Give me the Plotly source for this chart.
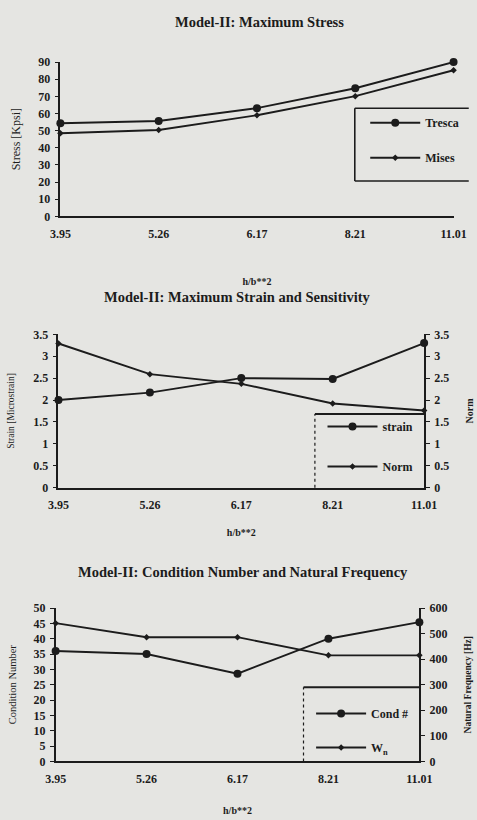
import plotly.graph_objects as go

W, H = 477, 820
x_labels = ["3.95", "5.26", "6.17", "8.21", "11.01"]
x_idx = [0, 1, 2, 3, 4]

tresca = [54.3, 55.6, 63.1, 74.7, 90.0]
mises = [48.5, 50.4, 59.0, 70.1, 85.2]

strain = [2.0, 2.17, 2.5, 2.48, 3.3]
norm = [3.29, 2.59, 2.37, 1.92, 1.76]

cond = [36.0, 35.0, 28.6, 40.0, 45.4]
wn = [541, 486, 486, 415, 415]

BG = "#e5e5e2"
INK = "#1c1c1c"
FONT = "Liberation Serif"


def px(x):
    return x / W


def py(y):
    return 1 - y / H


fig = go.Figure()

line = dict(color=INK, width=1.9)
big = dict(symbol="circle", size=8, color=INK)
small = dict(symbol="diamond", size=5, color=INK)

fig.add_trace(go.Scatter(x=x_idx, y=tresca, name="Tresca", mode="lines+markers", line=line,
                         marker=big, xaxis="x", yaxis="y", legend="legend", legendgroup="a", cliponaxis=False))
fig.add_trace(go.Scatter(x=x_idx, y=mises, name="Mises", mode="lines+markers", line=line,
                         marker=small, xaxis="x", yaxis="y", legend="legend", legendgroup="b", cliponaxis=False))
fig.add_trace(go.Scatter(x=x_idx, y=strain, name="strain", mode="lines+markers", line=line,
                         marker=big, xaxis="x2", yaxis="y2", legend="legend2", legendgroup="c", cliponaxis=False))
fig.add_trace(go.Scatter(x=x_idx, y=norm, name="Norm", mode="lines+markers", line=line,
                         marker=small, xaxis="x2", yaxis="y3", legend="legend2", legendgroup="d", cliponaxis=False))
fig.add_trace(go.Scatter(x=x_idx, y=cond, name="Cond #", mode="lines+markers", line=line,
                         marker=big, xaxis="x3", yaxis="y4", legend="legend3", legendgroup="e", cliponaxis=False))
fig.add_trace(go.Scatter(x=x_idx, y=wn, name="W<sub>n</sub>", mode="lines+markers", line=line,
                         marker=small, xaxis="x3", yaxis="y5", legend="legend3", legendgroup="f", cliponaxis=False))

tickfont = dict(family=FONT, size=12, color=INK, weight="bold")


def xax(domain, anchor, standoff):
    return dict(domain=domain, anchor=anchor, range=[0, 4], tickvals=x_idx, ticktext=x_labels,
                showline=True, linecolor=INK, linewidth=2.2, ticks="", showgrid=False, zeroline=False,
                tickfont=tickfont, ticklabelstandoff=5,
                title=dict(text="h/b**2", font=dict(family=FONT, size=10, color=INK, weight="bold"),
                           standoff=standoff))


def yax(domain, anchor, rng, dtick, title, side="left", overlaying=None, tsize=10, tweight="normal", standoff=4):
    d = dict(domain=domain, anchor=anchor, range=rng, dtick=dtick, side=side,
             showline=True, linecolor=INK, linewidth=1.5, ticks="outside", ticklen=4, tickwidth=1.2,
             tickcolor=INK, showgrid=False, zeroline=False, tickfont=tickfont, ticklabelstandoff=2,
             title=dict(text=title, font=dict(family=FONT, size=tsize, color=INK, weight=tweight),
                        standoff=standoff))
    if overlaying:
        d["overlaying"] = overlaying
    return d


fig.update_layout(
    width=W, height=H, margin=dict(l=0, r=0, t=0, b=0),
    paper_bgcolor=BG, plot_bgcolor=BG, showlegend=True,
    xaxis=xax([px(52), px(466)], "y", 38),
    yaxis=yax([py(213), py(56)], "x", [0, 90], 10, "Stress [Kpsi]", tsize=12, standoff=15),
    xaxis2=xax([px(50), px(435)], "y2", 18),
    yaxis2=yax([py(489), py(333)], "x2", [0, 3.5], 0.5, "Strain [Microstrain]", tsize=9.5, standoff=17),
    yaxis3=yax([py(489), py(333)], "x2", [0, 3.5], 0.5, "Norm", side="right", overlaying="y2",
               tweight="bold", standoff=18),
    xaxis3=xax([px(47), px(430)], "y4", 22),
    yaxis4=yax([py(767.5), py(611.5)], "x3", [0, 50], 5, "Condition Number", tsize=10.5, standoff=15),
    yaxis5=yax([py(767.5), py(611.5)], "x3", [0, 600], 100, "Natural Frequency [Hz]", side="right",
               overlaying="y4", tsize=9.5, tweight="bold", standoff=18),
)

legfont = dict(family=FONT, size=12, color=INK, weight="bold")
common = dict(bgcolor="rgba(0,0,0,0)", borderwidth=0, font=legfont, xanchor="left", yanchor="top",
              itemwidth=50, traceorder="grouped")
fig.update_layout(
    legend=dict(x=px(373), y=py(103), tracegroupgap=16, **common),
    legend2=dict(x=px(328), y=py(412), tracegroupgap=21, **common),
    legend3=dict(x=px(316), y=py(704), tracegroupgap=15, **common),
)

# legend frames
solid = dict(color=INK, width=1.6)
dashed = dict(color=INK, width=1.2, dash="dot")
seg = dict(type="line", xref="paper", yref="paper", layer="below")
# plot 1 frame
fig.add_shape(x0=px(362), x1=px(482), y0=py(103), y1=py(103), line=solid, **seg)
fig.add_shape(x0=px(362), x1=px(482), y0=py(177), y1=py(177), line=solid, **seg)
fig.add_shape(x0=px(362), x1=px(362), y0=py(177), y1=py(103), line=solid, **seg)
# plot 2 frame
fig.add_shape(x0=px(320), x1=px(435), y0=py(414), y1=py(414), line=dict(color=INK, width=2), **seg)
fig.add_shape(x0=px(320), x1=px(320), y0=py(489), y1=py(414), line=dashed, **seg)
# plot 3 frame
fig.add_shape(x0=px(308), x1=px(430), y0=py(692), y1=py(692), line=dict(color=INK, width=2), **seg)
fig.add_shape(x0=px(308), x1=px(308), y0=py(767.5), y1=py(692), line=dashed, **seg)

titles = [("Model-II: Maximum Stress", 262, 15),
          ("Model-II: Maximum Strain and Sensitivity", 238, 295),
          ("Model-II: Condition Number and Natural Frequency", 244, 575)]
for t, x, y in titles:
    fig.add_annotation(text=t, x=px(x), y=py(y), xref="paper", yref="paper", showarrow=False,
                       xanchor="center", yanchor="middle",
                       font=dict(family=FONT, size=14.5, color=INK, weight="bold"))

fig.write_html("out.html", config={"displayModeBar": False},
               post_script="document.body.style.margin='0';")
